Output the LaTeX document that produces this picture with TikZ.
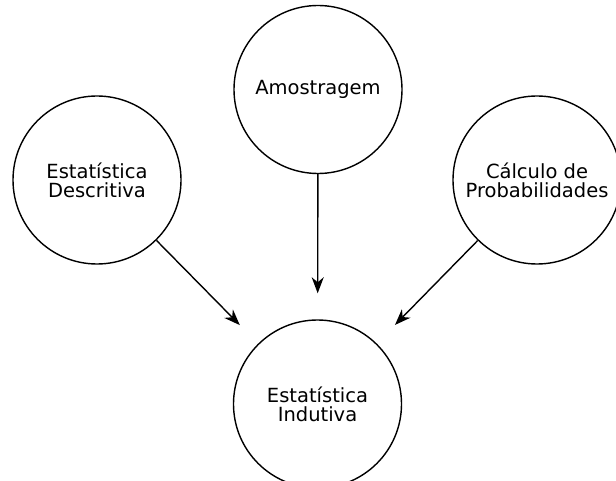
\documentclass[tikz,border=0pt]{standalone}
\usepackage{fontspec}
\setmainfont{DejaVu Sans}
\usetikzlibrary{arrows.meta}
\begin{document}
\begin{tikzpicture}[x=1pt,y=-1pt,
  bubble/.style={circle,draw,line width=1.4pt,minimum size=168pt,inner sep=0pt,align=center,font=\fontsize{19.5}{19}\selectfont},
  link/.style={line width=1.4pt,-{Stealth[length=16pt,width=12pt,inset=5pt]},shorten >=26pt}]
\useasboundingbox (0,0) rectangle (616,481);
\clip (0,0) rectangle (616,481);
\node[bubble] (amo) at (318,89.5) {Amostragem};
\node[bubble] (desc) at (97,180) {Estatística\\Descritiva};
\node[bubble] (prob) at (537,180) {Cálculo de\\Probabilidades};
\node[bubble] (ind) at (317.5,404) {Estatística\\Indutiva};
\draw[link] (desc) -- (ind);
\draw[link] (amo) -- (ind);
\draw[link] (prob) -- (ind);
\end{tikzpicture}
\end{document}
